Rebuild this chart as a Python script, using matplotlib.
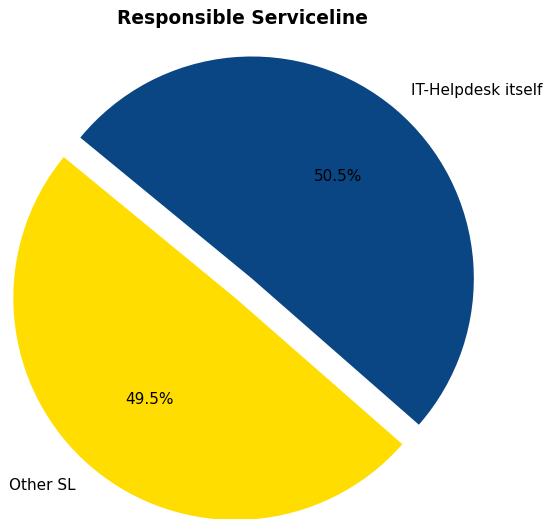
import matplotlib
matplotlib.use("Agg")
import matplotlib.pyplot as plt

labels = ["IT-Helpdesk itself", "Other SL"]
shares = [50.5, 49.5]
colors = ["#0A4683", "#FFDD00"]
explode = [0.065, 0.05]

fig = plt.figure(figsize=(5.43, 5.19), dpi=100)
ax = fig.add_axes([0, 0, 1, 1])

ax.pie(shares, labels=labels, colors=colors, explode=explode,
       autopct="%1.1f%%", startangle=-41.2, labeldistance=1.11,
       textprops={"fontsize": 11})

# pie is centred at the origin with radius 1 (about 222 px on the canvas)
scale = 222.0
cx, cy = 242.5, 289.5
ax.set_xlim(-cx / scale, (543 - cx) / scale)
ax.set_ylim((cy - 519) / scale, cy / scale)
ax.set_aspect("equal")
ax.axis("off")

fig.text(cx / 543, 1 - 18 / 519, "Responsible Serviceline",
         ha="center", va="center", fontsize=13.4, fontweight="bold")

fig.savefig("out.png", dpi=100)
